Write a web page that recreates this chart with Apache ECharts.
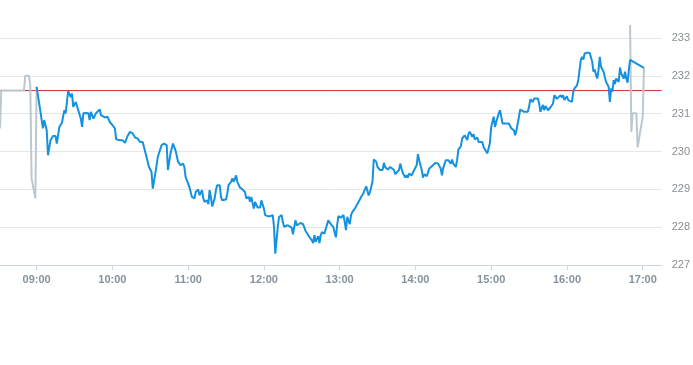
<!DOCTYPE html>
<html>
<head>
<meta charset="utf-8">
<script src="https://cdn.jsdelivr.net/npm/echarts@6/dist/echarts.min.js"></script>
<style>
html,body{margin:0;padding:0;background:#fff;}
#chart{width:693px;height:365px;}
</style>
</head>
<body>
<div id="chart"></div>
<script>
// ---- data ----
const axisStart = '08:31';
const axisEnd = '17:15';
const hourLabels = ['09:00','10:00','11:00','12:00','13:00','14:00','15:00','16:00','17:00'];
const priceMin = 227;
const priceMax = 233;
const prevClose = 231.61;

const preTimes = ['08:31','08:32','08:50','08:51','08:54','08:55','08:56','08:57','08:59','09:00'];
const prePrices = [230.61,231.61,231.61,232.00,232.00,231.75,229.29,229.29,228.76,231.71];

const sessionTimes = [
'09:00','09:02','09:05','09:06','09:08','09:09','09:11','09:13','09:15','09:16','09:18','09:20','09:21','09:22','09:23','09:25','09:27','09:28','09:29','09:31',
'09:33','09:35','09:36','09:37','09:39','09:41','09:42','09:43','09:45','09:47','09:50','09:51','09:54','09:56','09:58','10:00','10:02','10:03','10:06','10:08',
'10:10','10:12','10:14','10:16','10:18','10:20','10:22','10:24','10:25','10:27','10:29','10:31','10:32','10:34','10:36','10:39','10:41','10:43','10:44','10:46',
'10:48','10:50','10:52','10:54','10:56','10:57','10:58','11:00','11:01','11:02','11:03','11:05','11:06','11:07','11:08','11:09','11:11','11:12','11:13','11:14',
'11:15','11:16','11:17','11:18','11:19','11:21','11:22','11:23','11:25','11:26','11:27','11:30','11:31','11:32','11:34','11:35','11:36','11:38','11:39','11:41',
'11:43','11:45','11:46','11:48','11:49','11:50','11:52','11:53','11:55','11:57','11:58','12:00','12:01','12:03','12:05','12:07','12:08','12:09','12:11','12:12',
'12:14','12:15','12:16','12:19','12:20','12:22','12:23','12:25','12:26','12:27','12:29','12:31','12:33','12:34','12:36','12:38','12:39','12:40','12:41','12:43',
'12:44','12:45','12:46','12:48','12:49','12:50','12:51','12:53','12:54','12:55','12:57','12:58','12:59','13:01','13:03','13:04','13:05','13:06','13:08','13:09',
'13:10','13:12','13:14','13:16','13:17','13:18','13:19','13:21','13:23','13:24','13:26','13:27','13:29','13:30','13:32','13:34','13:35','13:36','13:37','13:38',
'13:40','13:41','13:43','13:44','13:45','13:47','13:48','13:49','13:50','13:52','13:53','13:54','13:55','13:57','13:58','13:59','14:01','14:02','14:03','14:05',
'14:06','14:07','14:09','14:10','14:11','14:13','14:14','14:16','14:17','14:18','14:20','14:21','14:22','14:24','14:25','14:26','14:28','14:29','14:30','14:32',
'14:33','14:34','14:36','14:37','14:38','14:39','14:41','14:42','14:43','14:45','14:46','14:47','14:49','14:50','14:51','14:53','14:54','14:55','14:57','14:58',
'14:59','15:00','15:02','15:03','15:04','15:06','15:07','15:08','15:09','15:10','15:12','15:13','15:14','15:16','15:18','15:19','15:20','15:22','15:23','15:24',
'15:26','15:27','15:29','15:30','15:31','15:33','15:34','15:35','15:37','15:38','15:39','15:41','15:42','15:43','15:45','15:46','15:47','15:49','15:50','15:51',
'15:52','15:53','15:55','15:56','15:57','15:58','16:00','16:01','16:02','16:04','16:05','16:06','16:08','16:09','16:10','16:11','16:12','16:13','16:14','16:16',
'16:18','16:19','16:20','16:21','16:22','16:23','16:24','16:25','16:26','16:27','16:29','16:30','16:31','16:33','16:34','16:35','16:36','16:37','16:38','16:39',
'16:41','16:42','16:43','16:45','16:46','16:47','16:48','16:49','16:50','17:01'
];
const sessionPrices = [
231.71,231.28,230.61,230.83,230.56,229.90,230.30,230.41,230.41,230.21,230.65,230.76,230.78,231.09,231.01,231.60,231.44,231.53,231.18,231.31,
231.09,230.87,230.65,231.01,231.02,231.01,230.83,231.05,230.87,231.01,231.11,230.96,230.90,230.92,230.78,230.70,230.61,230.32,230.30,230.30,
230.23,230.41,230.52,230.48,230.37,230.34,230.25,230.25,230.12,229.86,229.59,229.46,229.02,229.42,229.86,230.17,230.21,230.17,229.51,229.95,
230.21,230.03,229.73,229.64,229.68,229.59,229.33,229.15,229.06,229.05,228.80,228.76,228.93,228.89,229.00,228.84,228.98,228.76,228.67,228.62,
228.71,228.61,228.98,228.80,228.55,228.76,228.98,229.11,229.11,228.80,228.71,228.73,228.89,229.11,229.20,229.29,229.20,229.37,229.19,229.05,
229.00,228.93,228.76,228.80,228.67,228.80,228.49,228.67,228.52,228.52,228.71,228.49,228.32,228.29,228.29,228.32,228.01,227.30,228.01,228.27,
228.32,228.14,228.01,228.05,228.10,227.99,227.81,228.18,228.05,228.01,228.11,228.08,227.90,227.87,227.74,227.65,227.58,227.79,227.61,227.76,
227.58,227.79,227.87,227.83,227.96,228.01,228.18,228.08,228.11,228.00,227.73,228.05,228.29,228.25,228.32,228.14,227.92,228.27,228.08,228.32,
228.40,228.49,228.61,228.73,228.80,228.76,228.91,229.08,228.84,228.93,229.20,229.79,229.73,229.59,229.51,229.51,229.70,229.59,229.61,229.52,
229.59,229.59,229.51,229.40,229.43,229.51,229.68,229.55,229.43,229.31,229.37,229.31,229.42,229.37,229.42,229.51,229.64,229.93,229.77,229.51,
229.31,229.40,229.35,229.40,229.55,229.61,229.61,229.70,229.73,229.68,229.55,229.37,229.56,229.77,229.73,229.77,229.68,229.79,229.68,229.59,
229.77,230.05,230.14,230.34,230.32,230.43,230.30,230.46,230.52,230.39,230.46,230.32,230.37,230.25,230.21,230.25,230.11,230.14,229.95,229.90,
230.23,230.65,230.92,230.65,230.78,231.01,231.09,231.09,230.74,230.78,230.74,230.78,230.74,230.61,230.56,230.43,230.56,230.92,231.11,231.09,
231.05,231.07,231.05,231.18,231.38,231.31,231.40,231.38,231.40,231.27,231.05,231.23,231.09,231.20,231.09,231.09,231.17,231.27,231.49,231.52,
231.39,231.44,231.49,231.43,231.49,231.36,231.46,231.36,231.40,231.31,231.58,231.67,231.75,231.89,231.93,232.42,232.50,232.43,232.59,232.61,
232.61,232.59,232.37,232.11,232.17,232.02,231.93,232.15,232.50,232.24,232.11,231.97,231.84,231.71,231.31,231.67,231.58,231.89,231.78,231.93,
231.84,232.22,232.06,231.93,232.11,231.93,231.82,232.15,232.42,232.21
];

const postTimes = ['16:50','16:51','16:52','16:55','16:56','16:58','16:59','17:00','17:01'];
const postPrices = [233.34,230.52,231.01,231.01,230.11,230.52,230.56,230.91,232.21];

// ---- helpers ----
function toMin(s){ const p = s.split(':'); return (+p[0]) * 60 + (+p[1]); }
function fmt(v){ const h = Math.floor(v / 60), m = Math.round(v % 60); return (h < 10 ? '0' : '') + h + ':' + (m < 10 ? '0' : '') + m; }
function pairs(times, vals){ return times.map((t, i) => [toMin(t), vals[i]]); }

const hourValues = hourLabels.map(toMin);
const blue = '#1592df';
const grey = '#bcc7cf';
const red = '#d42a2a';

const chart = echarts.init(document.getElementById('chart'), null, {renderer: 'canvas'});
chart.setOption({
  animation: false,
  backgroundColor: '#ffffff',
  grid: {left: 0, right: 30, top: 38, bottom: 100, containLabel: false},
  xAxis: {
    type: 'value',
    min: toMin(axisStart),
    max: toMin(axisEnd),
    axisLine: {show: true, lineStyle: {color: '#ccd6eb', width: 1}},
    axisTick: {show: true, customValues: hourValues, length: 5, lineStyle: {color: '#ccd6eb'}},
    axisLabel: {
      customValues: hourValues,
      formatter: v => fmt(v),
      color: '#8592a0',
      fontSize: 11,
      fontWeight: 'bold',
      fontFamily: 'Liberation Sans, Arial, sans-serif',
      margin: 9
    },
    splitLine: {show: false}
  },
  yAxis: {
    type: 'value',
    position: 'right',
    min: priceMin,
    max: priceMax,
    interval: 1,
    axisLine: {show: false},
    axisTick: {show: false},
    axisLabel: {
      color: '#8a8f95',
      fontSize: 11,
      fontFamily: 'Liberation Sans, Arial, sans-serif',
      margin: 10,
      padding: [4, 0, 0, 0]
    },
    splitLine: {show: true, lineStyle: {color: '#e6e6e6', width: 1}}
  },
  series: [
    {
      type: 'line', name: 'prevClose', z: 1, silent: true,
      data: [[toMin(axisStart), prevClose], [toMin(axisEnd), prevClose]],
      showSymbol: false,
      lineStyle: {color: red, width: 1}, itemStyle: {color: red}
    },
    {
      type: 'line', name: 'pre', data: pairs(preTimes, prePrices), z: 2,
      showSymbol: false, clip: false, silent: true,
      lineStyle: {color: grey, width: 2}, itemStyle: {color: grey}
    },
    {
      type: 'line', name: 'post', data: pairs(postTimes, postPrices), z: 2,
      showSymbol: false, clip: false, silent: true,
      lineStyle: {color: grey, width: 2}, itemStyle: {color: grey}
    },
    {
      type: 'line', name: 'session', data: pairs(sessionTimes, sessionPrices), z: 3,
      showSymbol: false, clip: false, silent: true,
      lineStyle: {color: blue, width: 2}, itemStyle: {color: blue}
    }
  ]
});
</script>
</body>
</html>
